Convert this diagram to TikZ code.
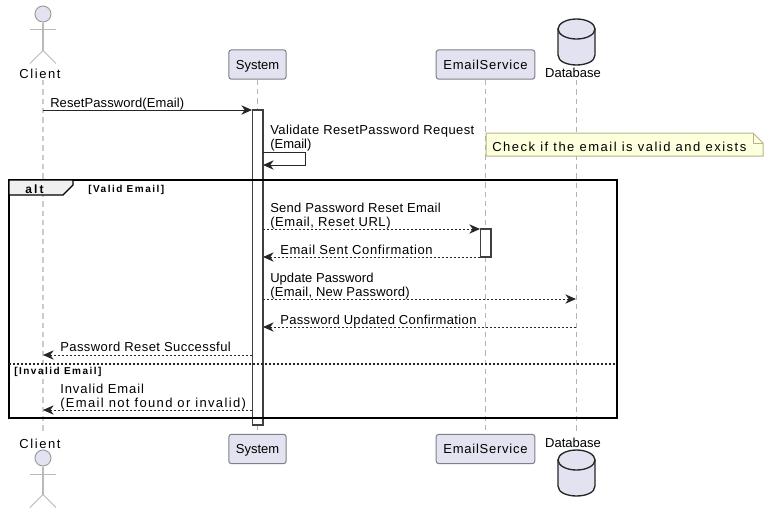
\documentclass[tikz,border=0pt]{standalone}
\usepackage{fontspec}
\setmainfont{Liberation Sans}
\usetikzlibrary{arrows.meta}
\newcommand{\lsp}[1]{\addfontfeatures{LetterSpace=#1}}
\definecolor{partfill}{HTML}{E2E2F0}
\definecolor{partline}{HTML}{7F7F88}
\definecolor{notefill}{HTML}{FEFFDD}
\definecolor{noteline}{HTML}{B5B58A}
\tikzset{
  part/.style={draw=partline,fill=partfill,rounded corners=2pt,line width=0.75pt,minimum width=#1,minimum height=22pt,inner sep=0pt,text height=9pt,text depth=1.8pt,font=\fontsize{9.75}{11}\selectfont},
  actorhead/.style={circle,draw=gray!75,fill=partfill,line width=0.75pt,minimum size=12pt,inner sep=0pt},
  actorline/.style={draw=gray!55,line width=0.75pt},
  dbcan/.pic={
    \draw[draw=black!85,fill=partfill,line width=1pt] (-18.5,0) -- (-18.5,26) .. controls (-18.5,39.3) and (18.5,39.3) .. (18.5,26) -- (18.5,0) -- cycle;
    \draw[draw=black!85,fill=partfill,line width=1pt] (0,0) ellipse [x radius=18.5,y radius=10];
  },
  dblbl/.style={inner sep=0pt,font=\fontsize{9.75}{11}\selectfont},
  actlbl/.style={inner sep=0pt,yshift=-0.3pt,font=\fontsize{9.75}{11}\selectfont\lsp{12}},
  life/.style={dash pattern=on 4pt off 3pt,draw=gray!#1,line width=0.6pt},
  activ/.style={draw=black!75,fill=white,line width=1pt,minimum width=8pt,minimum height=#1,inner sep=0pt},
  lbl/.style={anchor=west,inner sep=0pt,yshift=-1.1pt,align=left,font=\fontsize{9.75}{10.5}\selectfont},
  tag/.style={anchor=west,inner sep=0pt,yshift=-1.5pt,font=\fontsize{7.5}{9}\selectfont\bfseries\lsp{15}},
  msg/.style={draw=black!85,line width=0.75pt,-{Stealth[length=8pt,width=7pt,inset=2.5pt]}},
  ret/.style={msg,dash pattern=on 1.5pt off 1.5pt},
  altframe/.style={draw=black,line width=1.3pt,minimum width=456pt,minimum height=178.5pt,inner sep=0pt}
}

\begin{document}
\begin{tikzpicture}[x=0.75pt,y=-0.75pt]
\useasboundingbox (0,0) rectangle (770,515);

% top row
\node[actorhead] (clienttop) at (43,14) {};
\node[actlbl] (clientlbl) at (40,73) {Client};
\node[part=43pt] (system) at (257.5,64.5) {System};
\node[part=74pt] (email) at (485.5,64.5) {\lsp{5.8}EmailService};
\pic at (576.5,29) {dbcan};
\node[dblbl] (dblbl) at (573,73) {Database};

% bottom row
\node[actlbl] (clientlbl2) at (40,443) {Client};
\node[actorhead] (clientbot) at (43,458) {};
\node[part=43pt] (system2) at (257.5,449) {System};
\node[part=74pt] (email2) at (485.5,449) {\lsp{5.8}EmailService};
\node[dblbl] (dblbl2) at (573,443) {Database};
\pic at (576.5,460) {dbcan};

% stick men
\draw[actorline,line width=1.2pt] (clienttop.south) -- ++(0,28);
\draw[actorline] (clienttop.south) ++(0,28) -- ++(-13,13) ++(13,-13) -- ++(13,13);
\draw[actorline] (30,29) -- (56,29);
\draw[actorline,line width=1.2pt] (clientbot.south) -- ++(0,28);
\draw[actorline] (clientbot.south) ++(0,28) -- ++(-13,13) ++(13,-13) -- ++(13,13);
\draw[actorline] (30,474) -- (56,474);

% lifelines
\coordinate (cl1) at (43,80);
\coordinate (cl2) at (43,434);
\coordinate (db1) at (576,80);
\coordinate (db2) at (576,434);
\draw[life=40,line width=1pt] (cl1) -- (cl2);
\draw[life=60] (system) -- (system2);
\draw[life=60] (email) -- (email2);
\draw[life=60] (db1) -- (db2);

% activations
\node[activ=236.25pt] (sysact) at (257.5,267.5) {};
\node[activ=21pt] (emailact) at (485.5,243) {};

% note
\draw[draw=noteline,fill=notefill,line width=0.75pt] (486,133) -- (753,133) -- (763,143) -- (763,156) -- (486,156) -- cycle;
\draw[draw=noteline,line width=0.75pt] (753,133) -- (753,143) -- (763,143);
\node[lbl] (notetxt) at (492,145) {\lsp{11.6}Check if the email is valid and exists};

% alt frame
\node[altframe] (altfrm) at (313,299) {};
\draw[draw=black,fill=black!6,line width=1pt] (9,180) -- (73,180) -- (73,185) -- (63,195) -- (9,195) -- cycle;
\node[inner sep=0pt,yshift=-0.6pt,font=\fontsize{9}{11}\selectfont\bfseries\lsp{17}] (alttag) at (34.5,188) {alt};
\node[tag] (validtag) at (88,188) {[Valid Email]};
\coordinate (sepl) at (9,364);
\coordinate (sepr) at (617,364);
\draw[draw=black!85,line width=1pt,dash pattern=on 1.5pt off 1.5pt] (sepl) -- (sepr);
\node[tag] (invalidtag) at (14,370) {[Invalid Email]};

% message ends
\coordinate (m1a) at (43,110);
\coordinate (m1b) at (252,110);
\coordinate (m2a) at (263,152);
\coordinate (m2b) at (305,152);
\coordinate (m2c) at (305,165);
\coordinate (m2d) at (263,165);
\coordinate (m3a) at (263,229);
\coordinate (m3b) at (480,229);
\coordinate (m4a) at (480,257);
\coordinate (m4b) at (263,257);
\coordinate (m5a) at (263,299);
\coordinate (m5b) at (576,299);
\coordinate (m6a) at (576,327);
\coordinate (m6b) at (263,327);
\coordinate (m7a) at (252,355);
\coordinate (m7b) at (43,355);
\coordinate (m8a) at (252,410);
\coordinate (m8b) at (43,410);

% messages
\draw[msg] (m1a) -- (m1b);
\draw[msg] (m2a) -- (m2b) -- (m2c) -- (m2d);
\draw[ret] (m3a) -- (m3b);
\draw[ret] (m4a) -- (m4b);
\draw[ret] (m5a) -- (m5b);
\draw[ret] (m6a) -- (m6b);
\draw[ret] (m7a) -- (m7b);
\draw[ret] (m8a) -- (m8b);

% message labels
\node[lbl] (m1txt) at (50,102.5) {\lsp{0.7}ResetPassword(Email)};
\node[lbl] (m2txt) at (270,137) {\lsp{3.25}Validate ResetPassword Request\\(Email)};
\node[lbl] (m3txt) at (270,215) {\lsp{2.1}Send Password Reset Email\\\lsp{4.3}(Email, Reset URL)};
\node[lbl] (m4txt) at (280,248) {\lsp{4.7}Email Sent Confirmation};
\node[lbl] (m5txt) at (270,285) {\lsp{0.4}Update Password\\\lsp{1.9}(Email, New Password)};
\node[lbl] (m6txt) at (280,320) {\lsp{2.7}Password Updated Confirmation};
\node[lbl] (m7txt) at (60,345) {\lsp{3.3}Password Reset Successful};
\node[lbl] (m8txt) at (60,396) {\lsp{7.1}Invalid Email\\\lsp{10.4}(Email not found or invalid)};
\end{tikzpicture}
\end{document}
